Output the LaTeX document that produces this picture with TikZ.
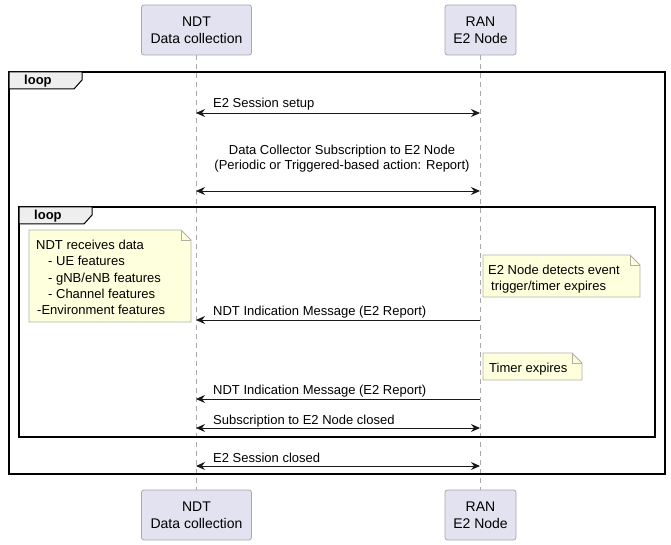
\documentclass[tikz,border=0pt]{standalone}
\usepackage{fontspec}
\setmainfont{Liberation Sans}
\usetikzlibrary{arrows.meta}
\definecolor{partfill}{HTML}{E2E2F0}
\definecolor{partline}{HTML}{A8A8B0}
\definecolor{notefill}{HTML}{FEFFDD}
\definecolor{noteline}{HTML}{B0B0A0}
\definecolor{tabfill}{HTML}{EEEEEE}
\definecolor{lifeclr}{HTML}{A8A8A8}
\definecolor{arrclr}{HTML}{181818}
\begin{document}
\begin{tikzpicture}[x=1pt,y=-1pt,
  font=\fontsize{13}{15}\selectfont,
  part/.style={draw=partline, fill=partfill, rounded corners=2.5pt, line width=0.8pt,
    minimum height=50pt, align=center, inner sep=0pt, font=\fontsize{14}{17}\selectfont},
  life/.style={draw=lifeclr, dash pattern=on 5pt off 4pt, line width=0.8pt},
  msg/.style={draw=arrclr, line width=0.9pt},
  tip/.style={-{Stealth[length=9pt,width=8pt,inset=3pt]}},
  both/.style={{Stealth[length=9pt,width=8pt,inset=3pt]}-{Stealth[length=9pt,width=8pt,inset=3pt]}},
  lbl/.style={anchor=base west, inner sep=0pt},
  looplbl/.style={anchor=base west, inner sep=0pt, font=\fontsize{13}{15}\selectfont\bfseries},
  frame/.style={draw=black, line width=1.6pt},
  tab/.style={draw=black, fill=tabfill, line width=1pt},
  note/.style={draw=noteline, fill=notefill, line width=0.8pt},
  notetxt/.style={anchor=base west, inner sep=0pt}
]
\useasboundingbox (0,0) rectangle (671,545);
\fill[white] (0,0) rectangle (671,545);

% participants
\node[part, minimum width=110pt] (ndtT) at (196.5,30) {NDT\\ Data collection};
\node[part, minimum width=71pt] (ranT) at (480.5,30) {RAN\\ E2 Node};
\node[part, minimum width=110pt] (ndtB) at (196.5,515) {NDT\\ Data collection};
\node[part, minimum width=71pt] (ranB) at (480.5,515) {RAN\\ E2 Node};

% lifelines
\coordinate (ndtTop) at (196,55);
\coordinate (ndtBot) at (196,490);
\coordinate (ranTop) at (480,55);
\coordinate (ranBot) at (480,490);
\draw[life] (ndtTop) -- (ndtBot);
\draw[life] (ranTop) -- (ranBot);

% outer loop
\draw[frame] (9,72) rectangle (665,474);
\draw[tab] (9,72) -- (82,72) -- (82,80) -- (74,89) -- (9,89) -- cycle;
\node[looplbl] (loop1) at (24,85) {loop};

% inner loop
\draw[frame] (19,207) rectangle (655,437);
\draw[tab] (19,207) -- (92,207) -- (92,215) -- (84,224) -- (19,224) -- cycle;
\node[looplbl] (loop2) at (34,220) {loop};

% message coordinates
\coordinate (a1) at (196,113); \coordinate (b1) at (480,113);
\coordinate (a2) at (196,191); \coordinate (b2) at (480,191);
\coordinate (a3) at (196,320); \coordinate (b3) at (480,320);
\coordinate (a4) at (196,399); \coordinate (b4) at (480,399);
\coordinate (a5) at (196,428); \coordinate (b5) at (480,428);
\coordinate (a6) at (196,466); \coordinate (b6) at (480,466);

% messages
\draw[msg, both] (a1) -- (b1);
\node[lbl] (m1) at (213,108) {E2 Session setup};

\draw[msg, both] (a2) -- (b2);
\node[align=center, inner sep=0pt, anchor=center] (m2) at (342,159)
  {Data Collector Subscription to E2 Node\\ (Periodic or Triggered-based action: Report)};

\draw[msg, tip] (b3) -- (a3);
\node[lbl] (m3) at (213,315) {NDT Indication Message (E2 Report)};

\draw[msg, tip] (b4) -- (a4);
\node[lbl] (m4) at (213,394) {NDT Indication Message (E2 Report)};

\draw[msg, both] (a5) -- (b5);
\node[lbl] (m5) at (213,424) {Subscription to E2 Node closed};

\draw[msg, both] (a6) -- (b6);
\node[lbl] (m6) at (213,462) {E2 Session closed};

% left note
\draw[note] (29,230) -- (181,230) -- (191,240) -- (191,322) -- (29,322) -- cycle;
\draw[note, fill=none] (181,230) -- (181,240) -- (191,240);
\node[notetxt] (n1a) at (36,249.5) {NDT receives data};
\node[notetxt] (n1b) at (48,265.5) {- UE features};
\node[notetxt] (n1c) at (48,282) {- gNB/eNB features};
\node[notetxt] (n1d) at (48,298) {- Channel features};
\node[notetxt] (n1e) at (37,314.5) {-Environment features};

% right note 1
\draw[note] (483,255) -- (630,255) -- (640,265) -- (640,297) -- (483,297) -- cycle;
\draw[note, fill=none] (630,255) -- (630,265) -- (640,265);
\node[notetxt] (n2a) at (488,274) {E2 Node detects event};
\node[notetxt] (n2b) at (491,290) {trigger/timer expires};

% right note 2
\draw[note] (483,353) -- (572,353) -- (582,363) -- (582,380) -- (483,380) -- cycle;
\draw[note, fill=none] (572,353) -- (572,363) -- (582,363);
\node[notetxt] (n3a) at (489,372) {Timer expires};
\end{tikzpicture}
\end{document}
